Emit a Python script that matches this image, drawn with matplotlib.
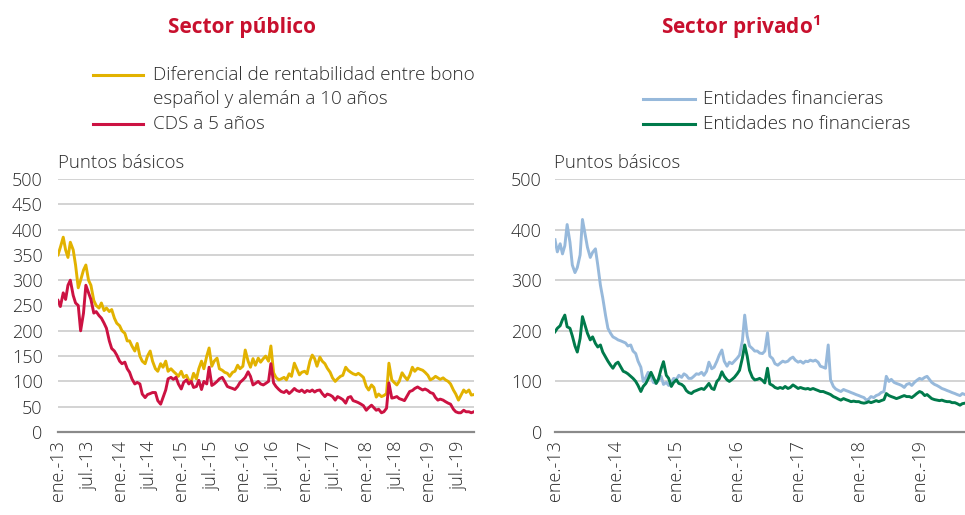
import matplotlib
matplotlib.use('Agg')
import matplotlib.pyplot as plt
from matplotlib.lines import Line2D
import pandas as pd

plt.rcParams['font.family'] = ['Open Sans', 'DejaVu Sans']
plt.rcParams['font.weight'] = 'light'
plt.rcParams['mathtext.fontset'] = 'custom'
plt.rcParams['mathtext.rm'] = 'Open Sans'
plt.rcParams['mathtext.bf'] = 'Open Sans:bold'

# ---------------- data (semi-monthly readings, bp) ----------------
dates = pd.date_range('2013-01-01', '2019-10-01', freq='SMS')

spread_10y = [
    350, 365, 385, 360, 345, 375, 360, 330, 285, 300, 320, 330, 300, 290, 260, 250, 245, 255, 240, 245, 238, 242, 225, 215,
    210, 200, 195, 180, 180, 170, 160, 175, 150, 140, 135, 150, 160, 140, 125, 120, 135, 128, 140, 120, 125, 120, 115, 110,
    120, 108, 112, 102, 100, 116, 105, 125, 140, 125, 150, 166, 130, 140, 146, 125, 122, 118, 116, 110, 118, 120, 132, 125,
    130, 162, 140, 128, 145, 132, 146, 138, 145, 150, 140, 170, 117, 108, 103, 105, 108, 103, 115, 110, 136, 125, 113, 118,
    120, 115, 140, 152, 145, 130, 148, 140, 135, 126, 118, 107, 100, 105, 110, 112, 128, 122, 118, 115, 113, 116, 112, 108,
    90, 83, 93, 88, 69, 75, 70, 72, 76, 136, 103, 98, 93, 100, 117, 110, 103, 112, 128, 120, 126, 124, 122, 118,
    112, 103, 106, 110, 107, 104, 107, 103, 100, 95, 83, 75, 63, 72, 83, 78, 83, 73,
    74]

cds_5y = [
    260, 248, 275, 262, 290, 300, 270, 255, 250, 200, 235, 290, 275, 262, 235, 238, 230, 225, 215, 205, 180, 165, 160, 152,
    140, 135, 138, 125, 118, 105, 95, 98, 95, 75, 68, 74, 76, 78, 78, 62, 55, 68, 83, 105, 108, 104, 108, 95,
    85, 98, 103, 95, 100, 88, 90, 102, 84, 100, 95, 128, 92, 95, 100, 105, 108, 100, 90, 88, 86, 84, 90, 98,
    103, 108, 119, 110, 93, 96, 100, 95, 93, 96, 100, 135, 97, 90, 84, 80, 78, 82, 76, 80, 86, 82, 80, 83,
    78, 82, 80, 83, 79, 82, 83, 76, 70, 75, 73, 70, 63, 70, 67, 64, 57, 68, 70, 62, 60, 58, 55, 52,
    43, 48, 53, 48, 43, 45, 38, 40, 47, 97, 67, 68, 70, 66, 64, 62, 72, 80, 82, 86, 89, 86, 83, 85,
    82, 78, 76, 68, 63, 65, 63, 60, 57, 55, 45, 40, 38, 38, 43, 40, 40, 38,
    40]

cds_financial = [
    380, 356, 372, 352, 368, 410, 375, 330, 315, 325, 350, 420, 390, 365, 345, 355, 362, 330, 290, 265, 230, 205, 195, 188,
    185, 182, 180, 178, 176, 170, 172, 160, 155, 140, 128, 100, 108, 118, 110, 98, 96, 102, 110, 94, 98, 92, 98, 106,
    104, 112, 108, 115, 112, 106, 106, 110, 115, 114, 118, 112, 120, 138, 125, 128, 140, 152, 162, 140, 130, 138, 135, 140,
    146, 152, 180, 231, 190, 170, 165, 160, 160, 156, 155, 160, 196, 150, 145, 135, 132, 136, 140, 138, 140, 145, 148, 142,
    138, 140, 136, 140, 139, 142, 140, 142, 138, 130, 128, 126, 172, 103, 90, 85, 82, 80, 84, 82, 80, 78, 76, 74,
    72, 70, 68, 63, 65, 70, 68, 72, 74, 78, 80, 110, 100, 104, 98, 96, 94, 92, 88, 94, 96, 92, 98, 102,
    106, 104, 108, 110, 104, 98, 94, 92, 89, 86, 84, 82, 80, 78, 76, 74, 72, 76,
    74]

cds_nonfinancial = [
    198, 205, 210, 222, 231, 208, 205, 190, 170, 158, 185, 228, 210, 195, 182, 188, 175, 168, 172, 158, 148, 140, 132, 126,
    135, 138, 128, 120, 118, 115, 110, 106, 100, 92, 80, 90, 96, 105, 118, 108, 96, 105, 125, 139, 112, 106, 90, 98,
    103, 96, 94, 90, 82, 78, 76, 80, 82, 84, 86, 84, 90, 96, 86, 84, 100, 105, 119, 110, 103, 100, 104, 108,
    115, 122, 146, 172, 150, 122, 108, 103, 104, 106, 102, 97, 126, 95, 92, 88, 86, 88, 86, 90, 86, 88, 93, 90,
    86, 88, 86, 85, 86, 84, 86, 84, 82, 80, 80, 78, 76, 74, 70, 68, 65, 63, 66, 64, 62, 60, 61, 60,
    60, 58, 57, 58, 60, 58, 60, 62, 60, 62, 64, 76, 72, 70, 68, 66, 68, 70, 72, 70, 70, 68, 72, 76,
    80, 78, 72, 74, 70, 66, 64, 63, 62, 63, 61, 60, 60, 58, 58, 56, 53, 56,
    57]

left_tick_dates = ['2013-01-01', '2013-07-01', '2014-01-01', '2014-07-01', '2015-01-01', '2015-07-01',
                   '2016-01-01', '2016-07-01', '2017-01-01', '2017-07-01', '2018-01-01', '2018-07-01',
                   '2019-01-01', '2019-07-01']
left_tick_labels = ['ene.-13', 'jul.-13', 'ene.-14', 'jul.-14', 'ene.-15', 'jul.-15', 'ene.-16', 'jul.-16',
                    'ene.-17', 'jul.-17', 'ene.-18', 'jul.-18', 'ene.-19', 'jul.-19']
right_tick_dates = ['2013-01-01', '2014-01-01', '2015-01-01', '2016-01-01', '2017-01-01', '2018-01-01', '2019-01-01']
right_tick_labels = ['ene.-13', 'ene.-14', 'ene.-15', 'ene.-16', 'ene.-17', 'ene.-18', 'ene.-19']

left_yticks = [0, 50, 100, 150, 200, 250, 300, 350, 400, 450, 500]
right_yticks = [0, 100, 200, 300, 400, 500]

left_series_names = ['Diferencial de rentabilidad entre bono\nespañol y alemán a 10 años', 'CDS a 5 años']
right_series_names = ['Entidades financieras', 'Entidades no financieras']

# ---------------- style ----------------
C_YEL = '#E2B200'
C_RED = '#CC1242'
C_BLUE = '#97B9DB'
C_GREEN = '#007A4B'
C_TITLE = '#C8102E'
C_TXT = '#2b2b2b'
FS = 13
FS_LEG = 13.6

W, H = 965, 515
fig = plt.figure(figsize=(W / 100, H / 100), dpi=100)


def rect(x0, x1, ytop, ybot):
    return [x0 / W, 1 - ybot / H, (x1 - x0) / W, (ybot - ytop) / H]


def px(x, y):
    return x / W, 1 - y / H


axL = fig.add_axes(rect(58, 474, 179, 432))
axR = fig.add_axes(rect(555, 965, 179, 432))

LW = 2.1
axL.plot(dates, spread_10y, color=C_YEL, lw=LW, zorder=3)
axL.plot(dates, cds_5y, color=C_RED, lw=LW, zorder=4)
axR.plot(dates, cds_financial, color=C_BLUE, lw=LW, zorder=3)
axR.plot(dates, cds_nonfinancial, color=C_GREEN, lw=LW, zorder=4)

for ax, yt, td, tl, ypad in [(axL, left_yticks, left_tick_dates, left_tick_labels, 11),
                            (axR, right_yticks, right_tick_dates, right_tick_labels, 9.5)]:
    ax.set_ylim(0, 500)
    ax.set_xlim(dates[0], dates[-1])
    ax.set_yticks(yt)
    ax.set_xticks(pd.to_datetime(td))
    ax.set_xticklabels(tl, rotation=90)
    for s in ['top', 'right', 'left']:
        ax.spines[s].set_visible(False)
    ax.spines['bottom'].set_color('#8a8a8a')
    ax.spines['bottom'].set_linewidth(1.6)
    ax.spines['bottom'].set_zorder(5)
    ax.grid(axis='y', color='#cccccc', lw=1.2)
    ax.grid(axis='x', visible=False)
    ax.set_axisbelow(True)
    ax.tick_params(axis='y', length=0, pad=ypad, labelsize=FS, labelcolor=C_TXT)
    ax.tick_params(axis='x', length=0, pad=6, labelsize=FS, labelcolor=C_TXT)
    ax.set_facecolor('none')

# axis unit labels
fig.text(*px(58, 163), 'Puntos básicos', fontsize=13.4, color=C_TXT, ha='left', va='center')
fig.text(*px(554, 163), 'Puntos básicos', fontsize=13.4, color=C_TXT, ha='left', va='center')

# titles
fig.text(*px(242, 27), 'Sector público', fontsize=15, fontweight='bold', color=C_TITLE,
         ha='center', va='center')
fig.text(*px(741, 27), r'Sector privado$^{\mathbf{1}}$', fontsize=15, fontweight='bold', color=C_TITLE,
         ha='center', va='center')

# legends (manual)
def legend_entry(x0, x1, y, color, label, tx, ty=None):
    fig.add_artist(Line2D([x0 / W, x1 / W], [1 - y / H, 1 - y / H], color=color, lw=2.2))
    fig.text(*px(tx, y if ty is None else ty), label, fontsize=FS_LEG, color=C_TXT, ha='left', va='center',
             linespacing=1.4)

legend_entry(93, 143, 75, C_YEL, left_series_names[0], 153, 87)
legend_entry(93, 143, 124, C_RED, left_series_names[1], 153)
legend_entry(643, 695, 99, C_BLUE, right_series_names[0], 703)
legend_entry(643, 695, 124, C_GREEN, right_series_names[1], 703)

fig.savefig('out.png', dpi=100, facecolor='white')
